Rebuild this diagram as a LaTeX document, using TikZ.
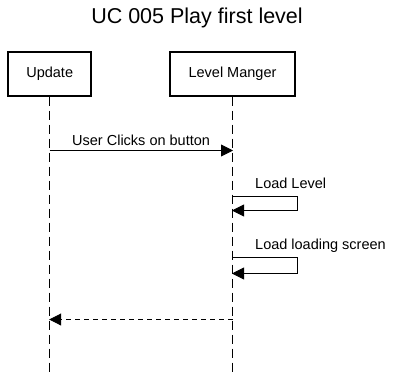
\documentclass[tikz,border=0pt]{standalone}
\usepackage{fontspec}
\setmainfont{Liberation Sans}
\usetikzlibrary{arrows.meta}

\begin{document}
\begin{tikzpicture}
    [
        x=1pt, y=-1pt,
        actor/.style={draw, line width=2pt, minimum height=44pt, inner sep=0pt, font=\fontsize{14.5}{17}\selectfont},
        lifeline/.style={dash pattern=on 9pt off 5pt, line width=1pt},
        msg/.style={-{Triangle[length=12pt,width=12pt]}, line width=0.9pt, shorten >=-0.5pt},
        reply/.style={msg, dash pattern=on 5pt off 4pt},
        label/.style={font=\fontsize{14.5}{17}\selectfont, inner sep=1pt},
    ]
    \useasboundingbox (0,0) rectangle (394,376);

    % title
    \node (title) at (197,18) {\fontsize{21.5}{25}\selectfont UC 005 Play first level};

    % participants
    \node (upd) at (49.7,73.5) [actor, minimum width=83pt] {Update};
    \node (lvl) at (232.5,73.5) [actor, minimum width=125pt] {Level Manger};

    % lifelines
    \coordinate (updEnd) at (49.7,376);
    \coordinate (lvlEnd) at (232.5,376);
    \draw [lifeline] (upd.south) -- (updEnd);
    \draw [lifeline] (lvl.south) -- (lvlEnd);

    % points on the lifelines
    \coordinate (u1) at (49.7,150.5);
    \coordinate (l1) at (232.5,150.5);
    \coordinate (l2) at (232.5,196);
    \coordinate (l3) at (232.5,210.5);
    \coordinate (l4) at (232.5,257.5);
    \coordinate (l5) at (232.5,273.5);
    \coordinate (l6) at (232.5,319.5);
    \coordinate (u6) at (49.7,319.5);

    % messages
    \draw [msg] (u1) -- node [label, above, yshift=3pt] (m1) {User Clicks on button} (l1);
    \draw [msg] (l2) -- ++(65,0) |- (l3);
    \node (m2) at (254,183) [label, anchor=west] {Load Level};
    \draw [msg] (l4) -- ++(65,0) |- (l5);
    \node (m3) at (254,246) [label, anchor=west] {Load loading screen};
    \draw [reply] (l6) -- (u6);

\end{tikzpicture}
\end{document}
